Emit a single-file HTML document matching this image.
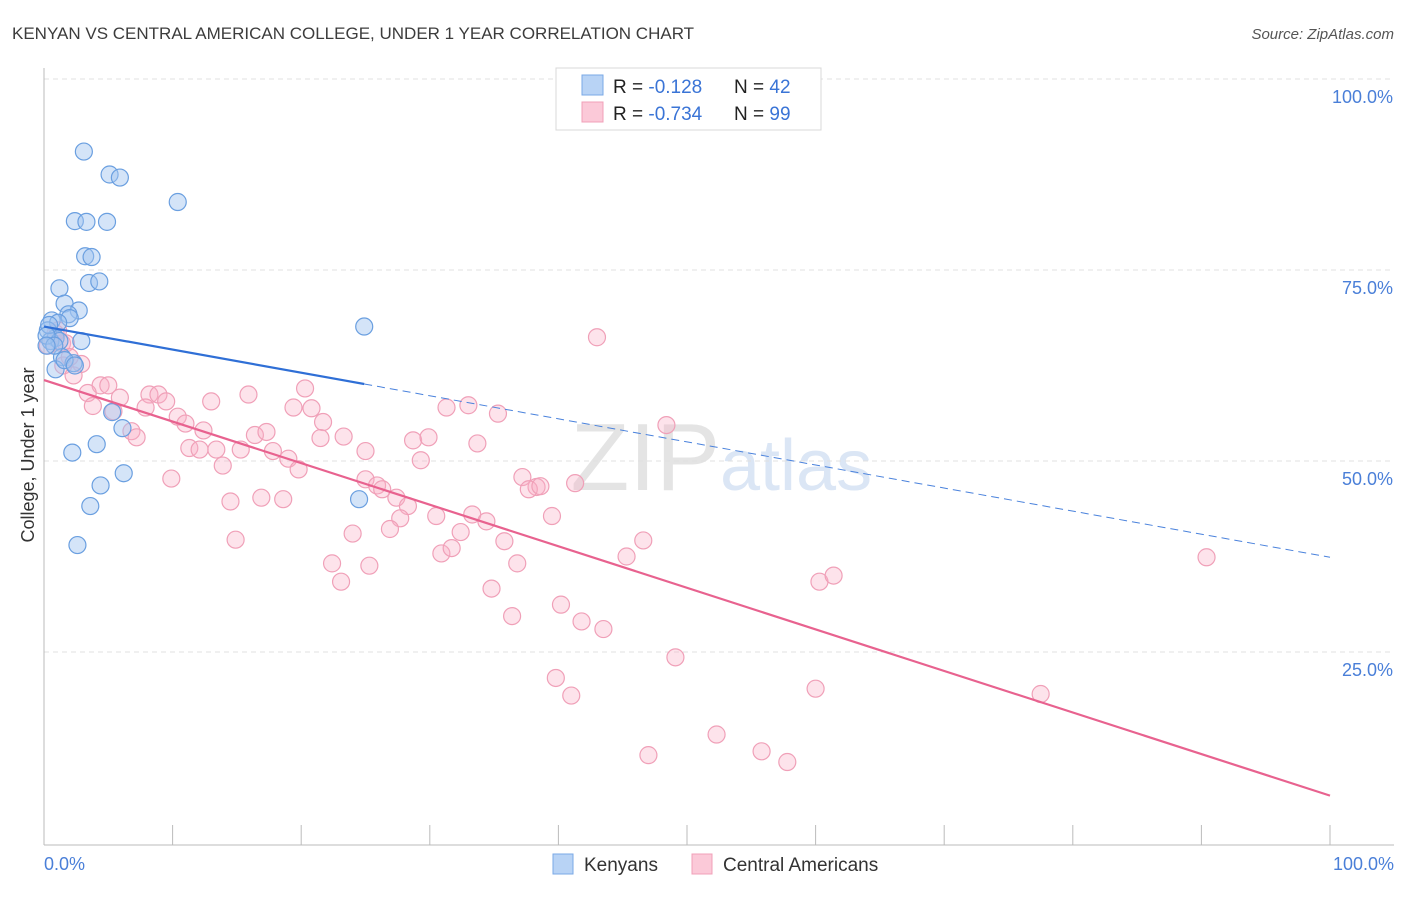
<!DOCTYPE html>
<html><head><meta charset="utf-8"><style>
body{margin:0;background:#fff;font-family:"Liberation Sans",sans-serif;}
svg text{font-family:"Liberation Sans",sans-serif;}
</style></head><body>
<svg id="chart" width="1406" height="892">
<text x="12" y="39" font-size="17" fill="#3c3c3c">KENYAN VS CENTRAL AMERICAN COLLEGE, UNDER 1 YEAR CORRELATION CHART</text>
<text x="1394" y="39" font-size="15" fill="#555" font-style="italic" text-anchor="end">Source: ZipAtlas.com</text>
<text x="0" y="0" font-size="18" fill="#333" transform="translate(34,455) rotate(-90)" text-anchor="middle">College, Under 1 year</text>
<text x="720" y="490" font-size="96" fill="#e4e4e4" text-anchor="end" font-family="Liberation Serif">ZIP</text>
<text x="720" y="490" font-size="72" fill="#dbe6f5">atlas</text>
<g id="grid"></g><g id="pts"></g><g id="trend"></g>
<g>
<rect x="556" y="68" width="265" height="62" fill="#fff" stroke="#d8d8d8"/>
<rect x="582" y="75" width="21" height="20" fill="#b8d3f5" stroke="#7aa8e6"/>
<rect x="582" y="102" width="21" height="20" fill="#fbc9d8" stroke="#f0a0b8"/>
<text x="613" y="93" font-size="19" fill="#222">R =  <tspan fill="#3a74d6">-0.128</tspan></text>
<text x="734" y="93" font-size="19" fill="#222">N = <tspan fill="#3a74d6">42</tspan></text>
<text x="613" y="120" font-size="19" fill="#222">R = <tspan fill="#3a74d6">-0.734</tspan></text>
<text x="734" y="120" font-size="19" fill="#222">N = <tspan fill="#3a74d6">99</tspan></text>
</g>
<g>
<rect x="553" y="854" width="20" height="20" fill="#b8d3f5" stroke="#7aa8e6"/>
<text x="584" y="871" font-size="19" fill="#333">Kenyans</text>
<rect x="692" y="854" width="20" height="20" fill="#fbc9d8" stroke="#f0a0b8"/>
<text x="723" y="871" font-size="19" fill="#333">Central Americans</text>
</g>
</svg>
<script>
const kenX=[3.1,5.1,5.9,10.4,2.4,3.3,4.9,3.2,3.7,1.2,3.5,4.3,1.6,2.7,1.9,2.0,0.6,1.1,0.3,0.9,2.9,0.5,1.2,1.4,2.3,0.9,5.3,6.1,24.9,4.1,2.2,6.2,4.4,3.6,2.6,24.5,0.4,0.2,1.6,2.4,0.8,0.2];
const kenY=[90.5,87.5,87.1,83.9,81.4,81.3,81.3,76.8,76.7,72.6,73.3,73.5,70.6,69.7,69.2,68.7,68.4,68.1,67.1,66.1,65.7,65.7,65.7,63.6,62.8,62.0,56.4,54.3,67.6,52.2,51.1,48.4,46.8,44.1,39.0,45.0,67.8,66.4,63.2,62.5,65.1,65.1];
const camX=[43.0,1.5,2.9,2.3,0.9,1.4,1.7,0.3,1.1,2.0,4.4,5.0,3.4,3.8,5.9,8.2,8.9,7.9,9.5,5.4,6.8,7.2,10.4,11.0,12.4,11.3,12.1,13.4,13.9,9.9,13.0,15.9,20.3,19.4,20.8,21.7,21.5,16.4,17.3,15.3,17.8,19.0,19.8,14.5,16.9,18.6,14.9,23.3,25.0,25.0,25.9,26.3,27.4,28.3,27.7,26.9,24.0,22.4,23.1,25.3,28.7,29.3,29.9,31.3,33.0,35.3,33.7,30.5,30.9,31.7,33.3,32.4,34.4,35.8,36.8,34.8,36.4,37.2,38.3,37.7,38.6,41.3,39.5,40.2,41.8,43.5,45.3,46.6,48.4,49.1,39.8,41.0,47.0,52.3,55.8,57.8,60.0,60.3,61.4,77.5,90.4];
const camY=[66.2,62.5,62.7,61.2,66.7,65.4,65.4,65.1,67.1,63.6,59.9,59.9,58.9,57.2,58.3,58.7,58.7,57.0,57.8,56.5,53.9,53.1,55.8,54.9,54.0,51.7,51.5,51.5,49.4,47.7,57.8,58.7,59.5,57.0,56.9,55.1,53.0,53.4,53.8,51.5,51.3,50.3,48.9,44.7,45.2,45.0,39.7,53.2,51.3,47.6,46.8,46.3,45.2,44.1,42.5,41.1,40.5,36.6,34.2,36.3,52.7,50.1,53.1,57.0,57.3,56.2,52.3,42.8,37.9,38.6,43.0,40.7,42.1,39.5,36.6,33.3,29.7,47.9,46.6,46.3,46.7,47.1,42.8,31.2,29.0,28.0,37.5,39.6,54.7,24.3,21.6,19.3,11.5,14.2,12.0,10.6,20.2,34.2,35.0,19.5,37.4];
const kenTrend=[67.6,37.4];
const camTrend=[60.6,6.2];
const yTicks=[25,50,75,100];
const NS="http://www.w3.org/2000/svg";
const X0=44,X1=1330,Y0=843,YPX=7.64;
const sx=v=>X0+(X1-X0)*v/100, sy=v=>Y0-v*YPX;
function mk(tag,attrs,parent){const e=document.createElementNS(NS,tag);for(const k in attrs)e.setAttribute(k,attrs[k]);parent.appendChild(e);return e;}
const grid=document.getElementById('grid'),svg=document.getElementById('chart');
yTicks.forEach(t=>{
 const l=mk('line',{x1:X0,x2:1394,y1:sy(t),y2:sy(t),stroke:'#e0e0e0','stroke-dasharray':'5,4'},grid);
 
 
 const tx=mk('text',{x:1393,y:sy(t)+24,'font-size':18,fill:'#4a7fd8','text-anchor':'end'},grid);
 tx.textContent=t.toFixed(1)+'%';
 
 
});
const ax=mk('line',{x1:X0,x2:X0,y1:68,y2:Y0+2,stroke:'#bbb'},grid);


const bx=mk('line',{x1:X0,x2:1394,y1:Y0+2,y2:Y0+2,stroke:'#bbb'},grid);


for(let i=1;i<=10;i++){const tk=mk('line',{x1:sx(i*10),x2:sx(i*10),y1:825,y2:845,stroke:'#bbb'},grid);
 
 }
const xl=mk('text',{x:44,y:870,'font-size':18,fill:'#4a7fd8'},grid);xl.textContent='0.0%';


const xr=mk('text',{x:1394,y:870,'font-size':18,fill:'#4a7fd8','text-anchor':'end'},grid);xr.textContent='100.0%';


const pts=document.getElementById('pts');
camX.forEach((x,i)=>{const c=mk('circle',{cx:sx(x),cy:sy(camY[i]),r:8.5,fill:'rgba(248,175,198,0.35)',stroke:'#f0a0b8','stroke-width':1.2},pts);
 
 });
kenX.forEach((x,i)=>{const c=mk('circle',{cx:sx(x),cy:sy(kenY[i]),r:8.5,fill:'rgba(160,196,240,0.45)',stroke:'#6a9fe0','stroke-width':1.2},pts);
 
 });
const tr=document.getElementById('trend');
const kAt=v=>kenTrend[0]+(kenTrend[1]-kenTrend[0])*v/100;
const solidEnd=Math.max(...kenX);
const k1=mk('line',{x1:sx(0),y1:sy(kAt(0)),x2:sx(solidEnd),y2:sy(kAt(solidEnd)),stroke:'#2f6fd6','stroke-width':2.2},tr);


const k2=mk('line',{x1:sx(solidEnd),y1:sy(kAt(solidEnd)),x2:sx(100),y2:sy(kAt(100)),stroke:'#4a82dc','stroke-width':1,'stroke-dasharray':'8,5'},tr);


const c1=mk('line',{x1:sx(0),y1:sy(camTrend[0]),x2:sx(100),y2:sy(camTrend[1]),stroke:'#e8628f','stroke-width':2.2},tr);


</script>
</body></html>
